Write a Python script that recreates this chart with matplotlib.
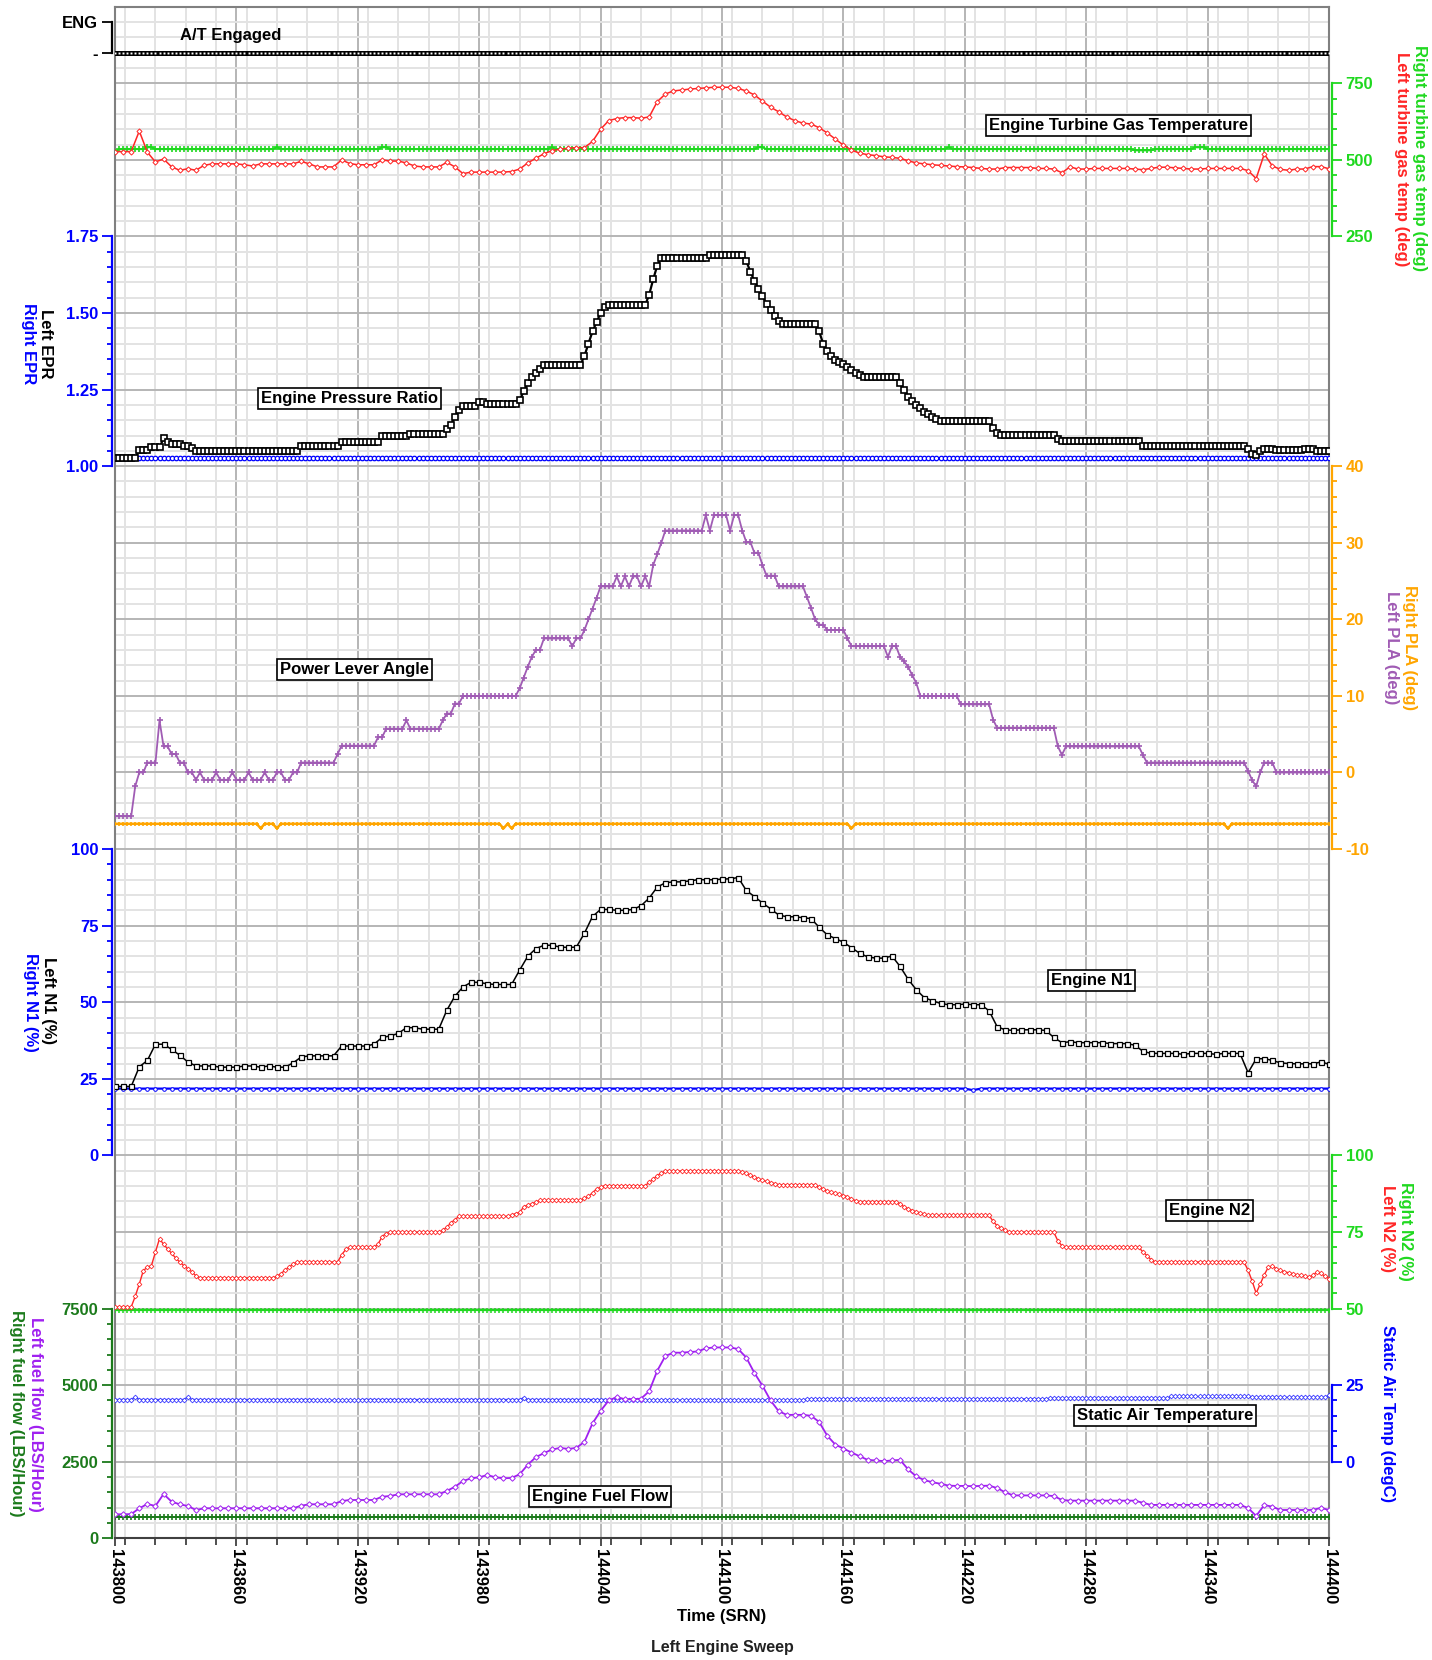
import numpy as np
import matplotlib
matplotlib.use('Agg')
import matplotlib.pyplot as plt
from matplotlib.ticker import MultipleLocator, FixedLocator, StrMethodFormatter

plt.rcParams['font.family'] = ['Liberation Sans', 'DejaVu Sans']
plt.rcParams['font.weight'] = 'bold'

T0, T_END = 143800, 144400
FAST = 2   # seconds between samples
SLOW = 4


def expand(items):
    # items are single values or (value, repeat) pairs
    out = []
    for it in items:
        if isinstance(it, tuple):
            out.extend([it[0]] * it[1])
        else:
            out.append(it)
    return np.array(out, dtype=float)


# ---- recorded parameters ----
at_engaged = [(0, 301)]

tgt_left = [
    527, 527, 527, 594, 525, 493, 503, 477, 466, 471,
    466, 482, 487, 487, 487, 487, 484, 480, 487, 487,
    487, 487, 487, 495, 487, 477, 477, 477, 500, 488,
    484, 484, 484, 500, 496, 496, 490, 480, 477, 477,
    477, 492, 477, 455, 460, 460, 460, 460, 460, 462,
    470, 490, 505, 520, 530, 535, 538, 540, 540, 560,
    600, 628, 635, 638, 638, 636, 640, 690, 715, 725,
    728, 731, 733, 735, 737, 737, 737, 733, 725, 712,
    692, 672, 657, 640, 628, 620, 617, 605, 588, 568,
    548, 532, 522, 517, 514, 510, 508, 505, 497, 490,
    487, 484, 482, 480, 478, 477, 475, 472, 470, 470,
    475, 475, 475, 475, 472, 472, 470, 458, 477, 470,
    470, 472, 472, 472, 472, 472, 470, 468, 472, 476,
    476, 474, 472, 470, 470, 472, 472, 472, 472, 472,
    465, 439, 519, 480, 469, 466, 470, 470, 478, 478,
    471]
tgt_right = [527, (535, 7), (541, 2), (535, 30), (541, 1), (535, 25), (541, 2),
             (535, 40), (541, 1), (535, 50), (541, 2), (535, 45), (541, 1),
             (535, 45), (531, 5), (535, 10), (541, 3), (535, 31)]

epr_left = [
    (1.028, 6), (1.052, 3), (1.061, 3), 1.091, 1.079, (1.072, 3), (1.065, 2), 1.058,
    (1.050, 26), (1.066, 10), (1.078, 10), (1.099, 7), (1.105, 9),
    1.120, 1.135, 1.160, 1.185, (1.198, 4), (1.210, 2), (1.203, 8),
    1.215, 1.245, 1.270, 1.290, 1.305, 1.318, (1.330, 10),
    1.360, 1.400, 1.440, 1.470, 1.500, 1.520, (1.525, 10),
    1.560, 1.610, 1.655, (1.680, 12), (1.690, 9),
    1.670, 1.635, 1.605, 1.580, 1.555, 1.530, 1.510, 1.490, 1.475, (1.465, 9),
    1.440, 1.400, 1.375, 1.360, 1.348, 1.340, 1.332, 1.325, 1.315, 1.305, 1.298,
    (1.292, 9),
    1.270, 1.250, 1.227, 1.212, 1.200, 1.190, 1.178, 1.170, 1.160, 1.155,
    (1.148, 13), 1.125, 1.108, (1.102, 14), 1.088, (1.082, 20), (1.067, 26),
    1.055, 1.040, 1.038, 1.050, (1.057, 3), (1.052, 7), (1.055, 3), (1.050, 4)]
epr_right = [(1.027, 301)]

pla_left = [
    (-5.7, 5), -1.8, (0.0, 2), (1.3, 3), 6.8, (3.4, 2), (2.4, 2), (1.3, 2), (0.0, 2),
    -0.95, 0.0, (-0.95, 3), 0.0, (-0.95, 3), 0.0, (-0.95, 3), 0.0, (-0.95, 3), 0.0,
    (-0.95, 2), (0.0, 2), (-0.95, 2), (0.0, 2),
    (1.3, 9), 2.4, (3.5, 9), (4.6, 2), (5.7, 5), 6.8, (5.7, 8), 6.8, (7.7, 2),
    (9.0, 2), (10.0, 14),
    11.0, 12.4, 13.8, 15.1, (16.0, 2), (17.5, 7), 16.5, (17.5, 2), 18.6, 20.0, 21.4, 22.8,
    (24.3, 4), 25.6, 24.3, 25.6, 24.3, (25.6, 2), 24.3, 25.6, 24.3, 27.1, 28.5, 30.0,
    (31.6, 10), 33.6, 31.6, (33.6, 4), 31.6, (33.6, 2), 31.6, (30.1, 2), (28.7, 2),
    27.1, (25.7, 3), (24.3, 7), 22.9, 21.5, 20.0, (19.3, 2), (18.6, 5), 17.5,
    (16.5, 9), 15.1, (16.5, 2), 15.1, 14.5, 13.8, 12.7, 11.7, (10.0, 10), (8.9, 8),
    6.9, (5.8, 15), 3.4, 2.3, (3.4, 19), 2.3, (1.3, 25), 0.2, -1.0, -1.8, 0.0,
    (1.3, 3), (0.0, 14)]
pla_right = [(-6.7, 36), -7.3, (-6.7, 3), -7.3, (-6.7, 55), -7.3, -6.7, -7.3,
             (-6.7, 83), -7.3, (-6.7, 92), -7.3, (-6.7, 25)]

n1_left = [
    22.5, 22.5, 22.5, 28.9, 31.0, 36.3, 36.3, 34.6, 32.7, 30.5,
    29.2, 29.2, 29.2, 28.8, 28.8, 28.8, 29.2, 29.2, 28.8, 29.2,
    28.8, 28.8, 30.2, 32.1, 32.5, 32.5, 32.5, 32.5, 35.7, 35.7,
    35.7, 35.7, 36.3, 38.5, 39.0, 39.8, 41.7, 41.7, 41.2, 41.2,
    41.2, 47.4, 52.0, 55.0, 56.5, 56.5, 56.0, 55.8, 55.8, 55.8,
    60.5, 65.0, 67.5, 68.6, 68.6, 68.0, 67.9, 68.0, 72.5, 78.0,
    80.3, 80.3, 80.0, 80.0, 80.3, 81.5, 84.0, 87.6, 89.0, 89.3,
    89.3, 89.6, 90.0, 90.0, 90.0, 90.2, 90.3, 90.7, 86.5, 84.5,
    82.4, 80.5, 78.5, 77.9, 77.9, 77.6, 77.3, 74.5, 72.0, 70.8,
    69.6, 67.8, 66.0, 64.8, 64.4, 64.4, 65.1, 61.7, 57.5, 54.1,
    51.5, 50.5, 49.6, 49.2, 49.2, 49.4, 49.2, 49.2, 47.2, 42.0,
    41.0, 40.8, 41.0, 41.0, 41.0, 40.8, 38.5, 36.8, 37.1, 36.8,
    36.8, 36.8, 36.8, 36.5, 36.5, 36.5, 36.0, 34.0, 33.3, 33.3,
    33.3, 33.3, 33.0, 33.3, 33.3, 33.3, 33.0, 33.3, 33.3, 33.3,
    27.0, 31.5, 31.6, 31.0, 30.2, 30.0, 29.9, 29.9, 29.9, 30.5,
    29.8]
n1_right = [(21.8, 106), 21.3, (21.8, 44)]

n2_left = [
    (50.5, 5), 54.0, 58.0, 62.4, 63.5, 64.0, 68.5, 72.8, 71.0, 69.5, 68.0, 66.5,
    65.2, 64.0, 63.0, 62.0, 60.7, (60.0, 19), 60.5, 61.4, 62.5, 63.5, 64.5,
    (65.2, 11), 67.5, 69.3, (70.0, 7), 71.0, 73.5, 74.5, (74.9, 13),
    75.6, 76.5, 78.0, 79.0, (80.1, 13), 80.5, 81.0, 81.4, 83.2, 83.8, 84.2, 84.8,
    (85.3, 11), 86.0, 86.6, 87.8, 89.0, 89.6, (90.1, 11), 91.2, 92.2, 93.4, 94.2,
    (94.9, 19), 94.6, 94.2, 93.5, 92.9, 92.4, 91.9, 91.5, 91.1, 90.8, (90.4, 10),
    89.6, 88.9, 88.4, 88.0, 87.7, 87.3, 86.9, 86.5, 85.8, 85.2, (84.9, 10),
    84.2, 83.2, 82.6, 82.0, 81.6, 81.2, 80.8, (80.4, 16), 78.5, 77.0, 76.3, 75.5,
    (74.9, 12), 72.1, 70.5, (70.0, 19), 68.5, 67.3, 66.0, (65.2, 23),
    62.5, 59.0, 55.0, 58.0, 61.0, 63.5, 63.8, 63.0, 62.5, 62.0, 61.7, 61.4, 61.0,
    60.8, 60.6, 60.3, 60.8, 61.9, 61.5, 60.5, 59.8]
n2_right = [(49.5, 301)]

static_air = [(20.3, 5), 21.1, (20.3, 12), 21.1, (20.3, 31), (20.0, 11), (20.3, 40),
              20.9, (20.3, 29), (20.1, 40), (20.5, 60), (20.7, 30), (21.3, 20),
              (21.0, 19), 21.7]

fuel_left = [
    783, 783, 790, 979, 1120, 1055, 1446, 1195, 1110, 1055,
    924, 979, 979, 979, 979, 979, 979, 979, 979, 979,
    979, 979, 979, 1064, 1110, 1110, 1110, 1110, 1217, 1250,
    1250, 1250, 1250, 1358, 1380, 1436, 1436, 1436, 1436, 1436,
    1436, 1544, 1684, 1870, 1958, 1991, 2066, 1991, 1960, 1970,
    2090, 2400, 2650, 2780, 2900, 2950, 2920, 2950, 3150, 3750,
    4160, 4500, 4610, 4540, 4540, 4560, 4800, 5470, 5950, 6060,
    6060, 6080, 6100, 6200, 6230, 6230, 6230, 6180, 5900, 5400,
    4980, 4500, 4150, 4030, 4030, 4030, 4000, 3800, 3350, 3060,
    2930, 2800, 2680, 2560, 2540, 2520, 2540, 2560, 2250, 2020,
    1900, 1830, 1780, 1720, 1710, 1710, 1700, 1710, 1720, 1640,
    1500, 1400, 1400, 1400, 1400, 1400, 1380, 1250, 1230, 1230,
    1230, 1230, 1230, 1230, 1230, 1230, 1230, 1160, 1090, 1090,
    1090, 1090, 1090, 1090, 1090, 1090, 1090, 1090, 1090, 1090,
    990, 730, 1087, 1032, 924, 924, 924, 924, 924, 995,
    924]
fuel_right = [(690, 301)]

x_ticks = [143800, 143860, 143920, 143980, 144040, 144100,
           144160, 144220, 144280, 144340, 144400]

# ---- colours ----
BLUE = '#0000ff'
RED = '#ff2626'
GREEN = '#1fd81f'
ORANGE = '#ffa500'
PURPLE = '#a05cb4'
VIOLET = '#a020f0'
DKGREEN = '#1b7a1b'

fig = plt.figure(figsize=(14.32, 16.6), dpi=100)
RECT = [115 / 1432, 1 - 1538.3 / 1660, 1214 / 1432, 1531.6 / 1660]

# shared grid, 20 rows of major divisions
bg = fig.add_axes(RECT)
bg.set_xlim(T0, T_END)
bg.set_ylim(0, 20)
bg.set_xticks(x_ticks)
bg.xaxis.set_minor_locator(MultipleLocator(15))
bg.xaxis.set_major_formatter(StrMethodFormatter('{x:.0f}'))
bg.yaxis.set_major_locator(MultipleLocator(1))
bg.yaxis.set_minor_locator(MultipleLocator(0.2))
bg.grid(which='minor', color='#e3e3e3', lw=1.4)
bg.grid(which='major', color='#b5b5b5', lw=1.4)
bg.set_axisbelow(True)
bg.tick_params(axis='y', which='both', left=False, labelleft=False)
bg.tick_params(axis='x', which='major', length=6, width=1.2, color='#303030',
               labelsize=12, labelrotation=270, pad=2)
bg.tick_params(axis='x', which='minor', length=5, width=1.2, color='#303030')
for sp in bg.spines.values():
    sp.set_color('#808080')
    sp.set_linewidth(1.5)
bg.spines['bottom'].set_color('#404040')


def panel_axes(side, ylim, ticks, minor_step, color, labels):
    ax = fig.add_axes(RECT)
    ax.set_facecolor('none')
    ax.xaxis.set_visible(False)
    for name, sp in ax.spines.items():
        sp.set_visible(name == side)
    sp = ax.spines[side]
    sp.set_bounds(ticks[0], ticks[-1])
    sp.set_position(('outward', 2))
    sp.set_color(color)
    sp.set_linewidth(1.6)
    ax.yaxis.set_ticks_position(side)
    ax.set_yticks(ticks)
    ax.set_yticklabels(labels)
    if minor_step:
        ax.yaxis.set_minor_locator(
            FixedLocator(np.arange(ticks[0], ticks[-1] + minor_step / 2, minor_step)))
    ax.tick_params(axis='y', which='major', length=7, width=1.3, color=color,
                   labelcolor=color, labelsize=12, pad=3)
    ax.tick_params(axis='y', which='minor', length=3.5, width=1.3, color=color)
    ax.set_xlim(T0, T_END)
    ax.set_ylim(*ylim)
    return ax


def times(vals, step):
    return T0 + step * np.arange(len(vals))


ax_eng = panel_axes('left', (-48.5, 1.5), [0, 1], None, 'black', ['-', 'ENG'])
ax_tgt = panel_axes('right', (-4000, 1000), [250, 500, 750], 50, GREEN,
                    ['250', '500', '750'])
ax_epr = panel_axes('left', (-2.5, 2.5), [1.0, 1.25, 1.5, 1.75], 0.05, BLUE,
                    ['1.00', '1.25', '1.50', '1.75'])
ax_pla = panel_axes('right', (-100, 100), [-10, 0, 10, 20, 30, 40], 2, ORANGE,
                    ['-10', '0', '10', '20', '30', '40'])
ax_n1 = panel_axes('left', (-125, 375), [0, 25, 50, 75, 100], 5, BLUE,
                   ['0', '25', '50', '75', '100'])
ax_n2 = panel_axes('right', (-25, 475), [50, 75, 100], 5, GREEN, ['50', '75', '100'])
ax_sat = panel_axes('right', (-25, 475), [0, 25], 5, BLUE, ['0', '25'])
ax_ff = panel_axes('left', (0, 50000), [0, 2500, 5000, 7500], 500, DKGREEN,
                   ['0', '2500', '5000', '7500'])


def trace(ax, data, step, color, marker, ms, lw=1.1, hollow=True, mew=0.8):
    v = expand(data)
    ax.plot(times(v, step), v, color=color, lw=lw, marker=marker, ms=ms,
            mfc='white' if hollow else color, mec=color, mew=mew)


# A/T engaged
v = expand(at_engaged)
ax_eng.plot(times(v, FAST), v, color='black', lw=3.6, marker='s', ms=1.4,
            mfc='white', mew=0)
ax_eng.text(143857, 0.55, 'A/T Engaged', ha='center', va='center', fontsize=12)

# turbine gas temperature
trace(ax_tgt, tgt_right, FAST, GREEN, '+', 4, lw=1.4, mew=1.2)
trace(ax_tgt, tgt_left, SLOW, RED, 'D', 2.6, lw=1.1, mew=0.7)

# EPR
trace(ax_epr, epr_right, FAST, BLUE, 'o', 3.2, lw=1.2, mew=0.9)
trace(ax_epr, epr_left, FAST, 'black', 's', 3.8, lw=1.6, mew=1.2)

# power lever angle
trace(ax_pla, pla_right, FAST, ORANGE, '+', 3.5, lw=1.8, mew=1.2)
trace(ax_pla, pla_left, FAST, PURPLE, '+', 4, lw=1.3, mew=1.2)

# N1
trace(ax_n1, n1_right, SLOW, BLUE, 'o', 2.6, lw=1.6, mew=0.7)
trace(ax_n1, n1_left, SLOW, 'black', 's', 3.6, lw=1.1, mew=0.9)

# N2
trace(ax_n2, n2_right, FAST, GREEN, '+', 3.6, lw=1.6, mew=1.1)
trace(ax_n2, n2_left, FAST, RED, 'D', 2.4, lw=1.0, mew=0.6)

# static air temperature
trace(ax_sat, static_air, FAST, '#3a3aff', 'D', 2.4, lw=1.0, mew=0.6)

# fuel flow
trace(ax_ff, fuel_right, FAST, DKGREEN, '+', 4, lw=1.3, mew=1.2)
trace(ax_ff, fuel_left, SLOW, VIOLET, 'D', 2.8, lw=1.3, mew=0.7)

# boxed panel titles
box = dict(boxstyle='square,pad=0.18', fc='white', ec='black', lw=1.2)
for label, tx, ty in [('Engine Turbine Gas Temperature', 144296, 18.455),
                      ('Engine Pressure Ratio', 143915.7, 14.89),
                      ('Power Lever Angle', 143918.4, 11.35),
                      ('Engine N1', 144282.5, 7.28),
                      ('Engine N2', 144341, 4.286),
                      ('Static Air Temperature', 144319, 1.61),
                      ('Engine Fuel Flow', 144039.5, 0.552)]:
    bg.text(tx, ty, label, ha='center', va='center', fontsize=12, bbox=box, zorder=5)


def side_label(px, py, text, color):
    fig.text(px / 1432, 1 - py / 1660, text, rotation=270, ha='center', va='center',
             fontsize=12, color=color)


side_label(45, 344, 'Left EPR', 'black')
side_label(28, 344, 'Right EPR', BLUE)
side_label(48, 1001, 'Left N1 (%)', 'black')
side_label(30, 1002, 'Right N1 (%)', BLUE)
side_label(35, 1414, 'Left fuel flow (LBS/Hour)', VIOLET)
side_label(16, 1413, 'Right fuel flow (LBS/Hour)', DKGREEN)
side_label(1419, 158, 'Right turbine gas temp (deg)', GREEN)
side_label(1402, 159, 'Left turbine gas temp (deg)', RED)
side_label(1410, 648, 'Right PLA (deg)', ORANGE)
side_label(1392, 648, 'Left PLA (deg)', PURPLE)
side_label(1405, 1231, 'Right N2 (%)', GREEN)
side_label(1387, 1229, 'Left N2 (%)', RED)
side_label(1388, 1414, 'Static Air Temp (degC)', BLUE)

fig.text(722 / 1432, 1 - 1616 / 1660, 'Time (SRN)', ha='center', va='center', fontsize=12)
fig.text(722 / 1432, 1 - 1647 / 1660, 'Left Engine Sweep', ha='center', va='center',
         fontsize=11.5, color='#222222')

fig.savefig('out.png', dpi=100)
